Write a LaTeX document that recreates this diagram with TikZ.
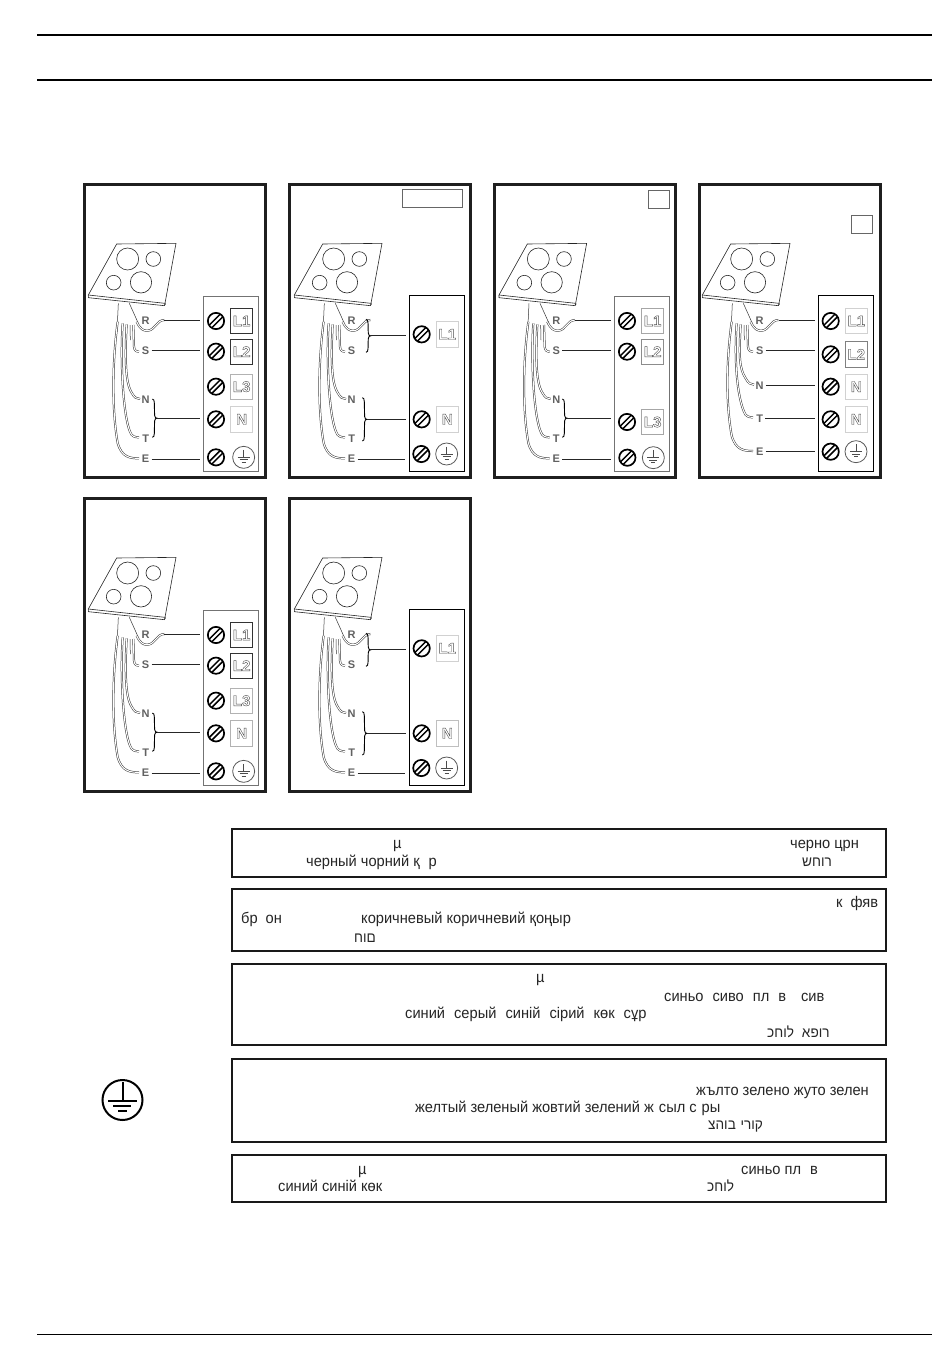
\documentclass[tikz,border=0pt]{standalone}
\usepackage{fontspec}
\usetikzlibrary{shapes.geometric}
\setmainfont{Liberation Sans}
\newfontfamily\txtf[FakeStretch=0.95]{Liberation Sans}
\newcommand\hollow[1]{\special{pdf:code 1 Tr 0.4 w}#1\special{pdf:code 0 Tr}}
\newcommand\hebsize{\fontsize{14.3}{17}\selectfont}
\tikzset{
  wire/.style={draw=black!80,line width=.5pt,double=white,double distance=1.05pt},
  hair/.style={draw=black!80,line width=.5pt},
  frameb/.style={draw=black!88,line width=2.6pt},
  hobl/.style={draw=black!85,line width=.6pt},
  wl/.style={text=black!62,font=\fontsize{11}{12}\selectfont\bfseries,inner sep=0pt},
  conn/.style={draw=black!85,line width=.9pt,shorten >=7pt,shorten <=2pt},
  brc/.style={draw=black,line width=.9pt},
  screw/.style={circle,draw=black,line width=1.7pt,minimum size=16.3pt,inner sep=0pt,
    path picture={\draw[line width=1.5pt] (-9.5pt,-6.9pt)--(6.9pt,9.5pt);\draw[line width=1.5pt] (-6.9pt,-9.5pt)--(9.5pt,6.9pt);}},
  lab/.style={rectangle,draw=#1,line width=.7pt,minimum width=22pt,minimum height=25.5pt,inner sep=0pt,
    text=black!70,font=\fontsize{15}{16}\selectfont\bfseries},
  earth/.style={circle,draw=black!65,line width=.8pt,minimum size=22pt,inner sep=0pt,
    path picture={\draw[black!70,line width=.8pt] (0,7.5pt)--(0,0) (-6pt,0)--(6pt,0) (-4pt,-2.5pt)--(4pt,-2.5pt) (-2pt,-5pt)--(2pt,-5pt);}},
  tbox/.style={draw=black!90,line width=1.8pt},
  tx/.style={anchor=base west,inner sep=0pt,text=black!85,font=\txtf\fontsize{15.4}{17}\selectfont},
  rule/.style={draw=black,line width=#1},
}
% #1 name, #2 hob shift, #3 yN, #4 yT, #5 yE
\newcommand\hobwires[5]{%
  \begin{scope}[xshift=#2pt/3]
  \draw[hobl,fill=white] (125,207)--(303,205)--(270,385)--(40,360)--cycle;
  \draw[hobl] (40,360)--(40,368)--(268,392)--(270,385) (268,392)--(272,386);
  \draw[hobl] (158,252) circle (33) (235,252) circle (22) (116,323) circle (22) (198,322) circle (32);
  \node[wl] (#1R) at (212,436) {R};
  \node[wl] (#1S) at (212,527) {S};
  \node[wl] (#1N) at (212,#3) {N};
  \node[wl] (#1T) at (212,#4) {T};
  \node[wl] (#1E) at (212,#5) {E};
  \draw[hair] (130,385)--(126,470) (163,385)--(190,445);
  \draw[wire] (128,440) .. controls (112,560) and (110,#5-150) .. (128,#5-48) .. controls (140,#5-5) and (165,#5-2) .. (192,#5-2);
  \draw[wire] (143,445) .. controls (135,560) and (145,#4-67) .. (165,#4-20) .. controls (170,#4-5) and (180,#4-3) .. (192,#4-3);
  \draw[wire] (155,448) .. controls (150,540) and (150,#3-52) .. (170,#3-22) .. controls (178,#3-7) and (185,#3-3) .. (195,#3-3);
  \draw[wire] (175,450) -- (177,515) .. controls (178,525) and (182,530) .. (192,530);
  \draw[hair] (165,450)--(166,495);
  \draw[wire] (185,440) .. controls (195,462) and (205,468) .. (218,467) .. controls (240,466) and (245,435) .. (268,435) coordinate (#1Rend);
  \end{scope}%
}
% #1 name, #2 x shift, #3 top, #4 bottom, #5 colour
\newcommand\blockb[5]{\draw[draw=#5,line width=.8pt] (386+#2,#3) rectangle (551+#2,#4);}
\newcommand\brc[5]{% name, x, top, bottom, shift-width
  \draw[brc] (#2,#3) .. controls (#2+9,#3) and (#2+5,#3+18) .. (#2+7,{(#3+#4)/2-8}) .. controls (#2+8,{(#3+#4)/2-2}) and (#2+10,{(#3+#4)/2}) .. (#2+14,{(#3+#4)/2}) coordinate (#1)
   .. controls (#2+10,{(#3+#4)/2}) and (#2+8,{(#3+#4)/2+2}) .. (#2+7,{(#3+#4)/2+8}) .. controls (#2+5,#4-18) and (#2+9,#4) .. (#2,#4);}
\newcommand\term[5]{% screw, label node, x shift, y, text+colour
  \node[screw] (#1) at (423+#3,#4) {};
  \node[lab=#5] (#2) at (500+#3,#4) {\hollow{\labtext}};}
\newcommand\eterm[4]{% name, screw x, y, earth x
  \node[screw] (#1s) at (#2,#3) {};
  \node[earth] (#1e) at (#4,#3) {};}
\newcommand\link[2]{\draw[conn] (#1.east) -- (#1.east -| #2.west);}
\newcommand\linkc[2]{\draw[conn,shorten <=0pt] (#1) -- (#1 -| #2.west);}
\newcommand\Lab[6]{\def\labtext{#5}\term{#1}{#2}{#3}{#4}{#6}}
\begin{document}
\begin{tikzpicture}[x=1pt,y=-1pt]
\useasboundingbox (0,0) rectangle (950,1353);
\fill[white] (0,0) rectangle (950,1353);
\coordinate (ra) at (37,35); \coordinate (rb) at (932,35);
\coordinate (rc) at (37,80); \coordinate (rd) at (932,80);
\coordinate (re) at (37,1334); \coordinate (rf) at (932,1334);
\draw[rule=1.7pt] (ra)--(rb);
\draw[rule=1.7pt] (rc)--(rd);
\draw[rule=.7pt] (re)--(rf);
% panel 1
\begin{scope}[shift={(75,175)},x=.33333pt,y=-.33333pt]
\draw[frameb] (28,28) rectangle (571,908);
\hobwires{a}{0}{675}{790}{852}
\blockb{a}{0}{365}{890}{black!55}
\Lab{asr}{alr}{0}{438}{L1}{black!80}
\Lab{ass}{als}{0}{530}{L2}{black!80}
\Lab{ast}{alt}{0}{635}{L3}{black!30}
\Lab{asn}{aln}{0}{733}{N}{black!18}
\eterm{aq}{423}{847}{506}
\linkc{aRend}{asr}
\link{aS}{ass}
\brc{abr}{232}{672}{787}{}
\linkc{abr}{asn}
\link{aE}{aqs}
\end{scope}
% panel 2
\begin{scope}[shift={(280,175)},x=.33333pt,y=-.33333pt]
\draw[frameb] (28,28) rectangle (571,908);
\node[draw=black!60,line width=1pt,minimum width=60pt,minimum height=18pt,inner sep=0pt] (btag) at (458,70) {};
\hobwires{b}{3}{675}{790}{852}
\blockb{b}{2}{362}{888}{black}
\Lab{bsr}{blr}{2}{478}{L1}{black!18}
\Lab{bsn}{bln}{2}{733}{N}{black!18}
\eterm{bq}{424}{837}{500}
\brc{bbr}{258}{433}{532}{}
\linkc{bbr}{bsr}
\brc{bbn}{247}{668}{798}{}
\linkc{bbn}{bsn}
\link{bE}{bqs}
\end{scope}
% panel 3
\begin{scope}[shift={(485,175)},x=.33333pt,y=-.33333pt]
\draw[frameb] (28,28) rectangle (571,908);
\node[draw=black!60,line width=1pt,minimum width=21pt,minimum height=18pt,inner sep=0pt] (ctag) at (521,72) {};
\hobwires{c}{2}{675}{790}{852}
\blockb{c}{2}{365}{890}{black!55}
\Lab{csr}{clr}{3}{438}{L1}{black!35}
\Lab{css}{cls}{3}{530}{L2}{black!45}
\Lab{csn}{cln}{3}{741}{L3}{black!35}
\eterm{cq}{427}{848}{505}
\linkc{cRend}{csr}
\link{cS}{css}
\brc{cbr}{232}{672}{787}{}
\linkc{cbr}{csn}
\link{cE}{cqs}
\end{scope}
% panel 4
\begin{scope}[shift={(690,175)},x=.33333pt,y=-.33333pt]
\draw[frameb] (28,28) rectangle (571,908);
\node[draw=black!60,line width=1pt,minimum width=21pt,minimum height=18pt,inner sep=0pt] (dtag) at (515,148) {};
\hobwires{d}{-3}{632}{730}{830}
\blockb{d}{0}{362}{888}{black}
\Lab{dsr}{dlr}{-1}{438}{L1}{black!18}
\Lab{dss}{dls}{-1}{538}{L2}{black!50}
\Lab{dst}{dlt}{-1}{635}{N}{black!18}
\Lab{dsn}{dln}{-1}{733}{N}{black!18}
\eterm{dq}{422}{830}{498}
\coordinate (dRx) at (268,436);
\linkc{dRx}{dsr}
\link{dS}{dss}
\link{dN}{dst}
\link{dT}{dsn}
\link{dE}{dqs}
\end{scope}
% panel 5
\begin{scope}[shift={(75,489)},x=.33333pt,y=-.33333pt]
\draw[frameb] (28,28) rectangle (571,908);
\hobwires{e}{0}{675}{790}{852}
\blockb{e}{0}{365}{890}{black!55}
\Lab{esr}{elr}{0}{438}{L1}{black!80}
\Lab{ess}{els}{0}{530}{L2}{black!80}
\Lab{est}{elt}{0}{635}{L3}{black!30}
\Lab{esn}{eln}{0}{733}{N}{black!30}
\eterm{eq}{423}{847}{506}
\linkc{eRend}{esr}
\link{eS}{ess}
\brc{ebr}{232}{672}{787}{}
\linkc{ebr}{esn}
\link{eE}{eqs}
\end{scope}
% panel 6
\begin{scope}[shift={(280,489)},x=.33333pt,y=-.33333pt]
\draw[frameb] (28,28) rectangle (571,908);
\hobwires{f}{3}{675}{790}{852}
\blockb{f}{2}{362}{888}{black}
\Lab{fsr}{flr}{2}{478}{L1}{black!18}
\Lab{fsn}{fln}{2}{733}{N}{black!25}
\eterm{fq}{424}{837}{500}
\brc{fbr}{258}{433}{532}{}
\linkc{fbr}{fsr}
\brc{fbn}{247}{668}{798}{}
\linkc{fbn}{fsn}
\link{fE}{fqs}
\end{scope}
% colour boxes
\draw[tbox] (232,829) rectangle (886,877);
\draw[tbox] (232,889) rectangle (886,951);
\draw[tbox] (232,964) rectangle (886,1045);
\draw[tbox] (232,1059) rectangle (886,1142);
\draw[tbox] (232,1155) rectangle (886,1202);
\node[tx] (t1a) at (393,848) {µ};
\node[tx] (t1b) at (790,848) {черно црн};
\node[tx] (t1c) at (306,866) {черный чорний қ\hspace{9pt}р};
\node[tx] (t1d) at (802,866) {\hebsize רוחש};
\node[tx] (t2a) at (836,907) {к\hspace{8pt}фяв};
\node[tx] (t2b) at (241,923) {бр\hspace{8pt}он};
\node[tx] (t2c) at (361,923) {коричневый коричневий қоңыр};
\node[tx] (t2d) at (354,942) {\hebsize םוח};
\node[tx] (t3a) at (536,982) {µ};
\node[tx] (t3b) at (664,1001) {синьо\hspace{5pt} сиво\hspace{5pt} пл\hspace{5pt} в\hspace{15pt}сив};
\node[tx] (t3c) at (405,1018) {синий\hspace{5pt} серый\hspace{5pt} синій\hspace{5pt} сірий\hspace{5pt} көк\hspace{5pt} сұр};
\node[tx] (t3d) at (767,1037) {\hebsize לוחכ\hspace{8pt}רופא};
\node[tx] (t4a) at (696,1095) {жълто зелено жуто зелен};
\node[tx] (t4b) at (415,1112) {желтый зеленый жовтий зелений ж\hspace{5pt}сыл с\hspace{5pt}ры};
\node[tx] (t4c) at (708,1129) {\hebsize בוהצ\hspace{1pt} קורי};
\node[tx] (t5a) at (358,1174) {µ};
\node[tx] (t5b) at (741,1174) {синьо пл\hspace{9pt}в};
\node[tx] (t5c) at (278,1191) {синий синій көк};
\node[tx] (t5d) at (707,1191) {\hebsize לוחכ};
% earth symbol
\node[ellipse,draw=black,line width=2pt,minimum width=40pt,minimum height=40pt,inner sep=0pt] (bigearth) at (122.5,1100) {};
\draw[black,line width=1.5pt] (123,1082)--(123,1101) (108,1101)--(137,1101);
\draw[black,line width=1.5pt] (113,1106)--(131,1106) (118,1111)--(127,1111);
\end{tikzpicture}
\end{document}
